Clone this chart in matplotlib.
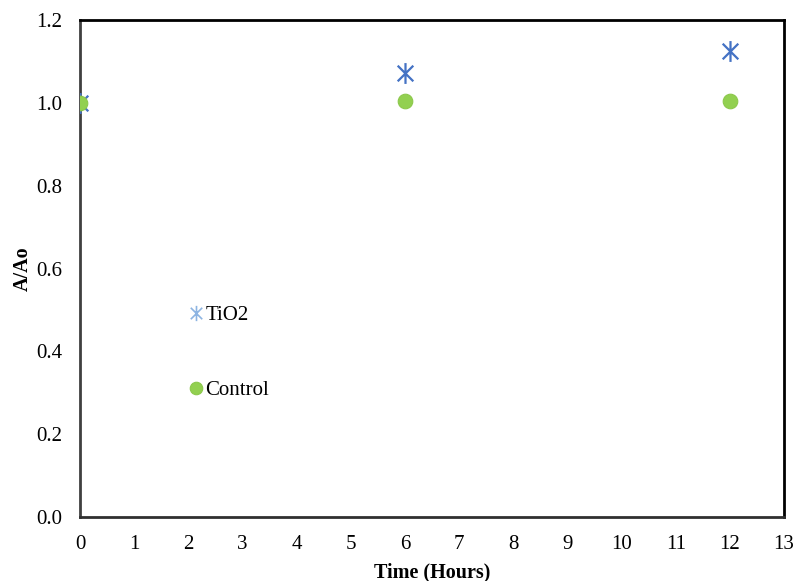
import matplotlib.pyplot as plt
from matplotlib.path import Path
from matplotlib.lines import Line2D

# data
time_h = [0, 6, 12]
tio2 = [1.0, 1.072, 1.126]
control = [1.0, 1.005, 1.005]
series_names = ['TiO2', 'Control']

plt.rcParams['font.family'] = ['Liberation Serif', 'DejaVu Serif']

# Excel style star: vertical bar plus an X
star = Path([(0, -1), (0, 1), (-0.75, -0.75), (0.75, 0.75), (-0.75, 0.75), (0.75, -0.75)],
            [Path.MOVETO, Path.LINETO, Path.MOVETO, Path.LINETO, Path.MOVETO, Path.LINETO])

fig = plt.figure(figsize=(7.96, 5.81), dpi=100)
ax = fig.add_axes([80 / 796, 1 - 517 / 581, 704 / 796, 497 / 581])

ax.plot(time_h, tio2, linestyle='none', marker=star, markersize=15,
        markeredgecolor='#4472C4', markerfacecolor='none', markeredgewidth=1.6, zorder=3)
ax.plot(time_h, control, linestyle='none', marker='o', markersize=10.5,
        markerfacecolor='#92D050', markeredgecolor='#8CC84B', markeredgewidth=0.8, zorder=3)

ax.set_xlim(0, 13)
ax.set_ylim(0, 1.2)
ax.set_xticks(range(0, 14))
yt = [0, 0.2, 0.4, 0.6, 0.8, 1.0, 1.2]
ax.set_yticks(yt)
ax.set_yticklabels(['%.1f' % v for v in yt])
ax.tick_params(length=0, labelsize=15)
ax.tick_params(axis='x', pad=13)
ax.tick_params(axis='y', pad=13)

for s in ax.spines.values():
    s.set_linewidth(2)
    s.set_color('black')
ax.spines['left'].set_color('#404040')
ax.spines['bottom'].set_color('#303030')

ax.set_xlabel('Time (Hours)', fontsize=14.5, fontweight='bold', labelpad=6)
ax.set_ylabel('A/Ao', fontsize=14.5, fontweight='bold', labelpad=2)

handles = [
    Line2D([], [], linestyle='none', marker=star, markersize=11,
           markeredgecolor='#8DB4E2', markerfacecolor='none', markeredgewidth=1.2),
    Line2D([], [], linestyle='none', marker='o', markersize=9,
           markerfacecolor='#92D050', markeredgecolor='#8CC84B', markeredgewidth=0.8),
]
ax.legend(handles, series_names, loc='center left', bbox_to_anchor=(0.126, 0.33),
          frameon=False, fontsize=15, labelspacing=2.66, handlelength=0.8,
          handletextpad=0.05)

fig.savefig('out.png', dpi=100)
